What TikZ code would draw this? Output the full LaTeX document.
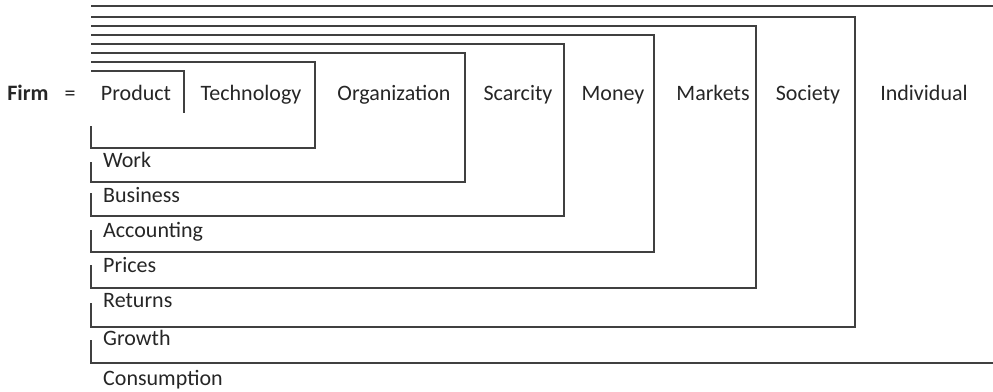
\documentclass[tikz,border=0pt]{standalone}
\usepackage{fontspec}
\setmainfont{Carlito}
\usetikzlibrary{positioning}

\begin{document}
\begin{tikzpicture}[
  x=1pt, y=-1pt,
  font=\fontsize{22}{26}\selectfont,
  every node/.style={text=black!85},
  frame/.style={draw=black!75, line width=1.6pt},
  word/.style={anchor=base, inner sep=0pt},
  under/.style={anchor=base west, inner sep=0pt}
  ]
\useasboundingbox (0,0) rectangle (993,391);

% Top row
\node[word, font=\bfseries\fontsize{22}{26}\selectfont] (firm) at (28,100) {Firm};
\node[word] (equals) at (70,100) {=};
\foreach \name/\txt/\x in {product/Product/136, technology/Technology/251,
  organization/Organization/394, scarcity/Scarcity/518, money/Money/613,
  markets/Markets/713, society/Society/808, individual/Individual/924}
  \node[word] (\name) at (\x,100) {\txt};

% Innermost bracket
\draw[frame] (91,71) -- (184,71) -- (184,113);

% Nested brackets
\foreach \top/\right/\bottom/\stub in {62/315/148/126, 53/465/182/162,
  44/564/216/193, 35/654/252/230, 26/756/288/265, 17/855/327/303}
  \draw[frame] (91,\stub) -- (91,\bottom) -- (\right,\bottom) -- (\right,\top) -- (91,\top);

% Outermost bracket
\draw[frame] (993,6) -- (91,6);
\draw[frame] (91,340) -- (91,363) -- (993,363);

% Bottom labels
\foreach \name/\txt/\y in {work/Work/167, business/Business/202,
  accounting/Accounting/237, prices/Prices/272, returns/Returns/307,
  growth/Growth/345, consumption/Consumption/385}
  \node[under] (\name) at (103,\y) {\txt};
\end{tikzpicture}
\end{document}
